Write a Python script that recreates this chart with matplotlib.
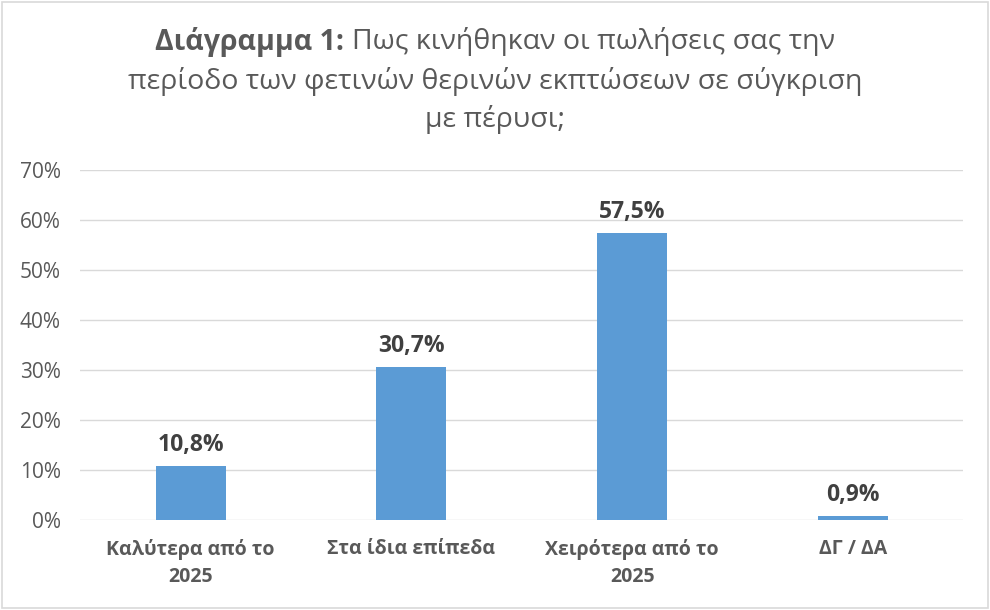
import matplotlib
matplotlib.use("Agg")
import matplotlib.pyplot as plt
from matplotlib.patches import Rectangle
import numpy as np

plt.rcParams['font.family'] = ['Open Sans', 'DejaVu Sans']

categories = ["Καλύτερα από το\n2025", "Στα ίδια επίπεδα", "Χειρότερα από το\n2025", "ΔΓ / ΔΑ"]
values = [10.8, 30.7, 57.5, 0.9]
yticks = [0, 10, 20, 30, 40, 50, 60, 70]

BAR_COLOR = "#5B9BD5"
TEXT_GRAY = "#595959"
LABEL_GRAY = "#404040"
GRID_GRAY = "#D9D9D9"

fig = plt.figure(figsize=(9.9, 6.1), dpi=100)
ax = fig.add_axes([0.081, 0.1475, 0.892, 0.5738])

x = np.arange(len(categories))
ax.bar(x, values, width=0.317, color=BAR_COLOR, zorder=3)

for xi, v in zip(x, values):
    ax.text(xi, v + 1.8, f"{v:.1f}%".replace(".", ","), ha="center", va="bottom",
            fontsize=16.5, fontweight="bold", color=LABEL_GRAY)

ax.set_xlim(-0.5, len(categories) - 0.5)
ax.set_ylim(0, 70)
ax.set_yticks(yticks)
ax.set_yticklabels([f"{t}%" for t in yticks], fontsize=15, color=TEXT_GRAY)
ax.set_xticks(x)
ax.set_xticklabels(categories, fontsize=14, fontweight="bold", color=TEXT_GRAY,
                   linespacing=1.45)
ax.tick_params(axis="both", length=0)
ax.tick_params(axis="x", pad=14)
ax.tick_params(axis="y", pad=14)
ax.grid(axis="y", color=GRID_GRAY, linewidth=1, zorder=0)
for s in ax.spines.values():
    s.set_visible(False)

# title: first line mixed bold / regular
fig.canvas.draw()
renderer = fig.canvas.get_renderer()
title_size = 20.5
bold_part = "Διάγραμμα 1: "
normal_part = "Πως κινήθηκαν οι πωλήσεις σας την"
tb = fig.text(0, 0, bold_part, fontsize=title_size, fontweight="bold", color=TEXT_GRAY)
tn = fig.text(0, 0, normal_part, fontsize=title_size, color=TEXT_GRAY)
wb = tb.get_window_extent(renderer).width / fig.bbox.width
wn = tn.get_window_extent(renderer).width / fig.bbox.width
x0 = 0.5 - (wb + wn) / 2
y1 = 1 - 42 / 610
tb.set_position((x0, y1))
tb.set_va("center")
tn.set_position((x0 + wb, y1))
tn.set_va("center")
fig.text(0.5, 1 - 81 / 610, "περίοδο των φετινών θερινών εκπτώσεων σε σύγκριση",
         ha="center", va="center", fontsize=title_size, color=TEXT_GRAY)
fig.text(0.5, 1 - 119 / 610, "με πέρυσι;", ha="center", va="center",
         fontsize=title_size, color=TEXT_GRAY)

fig.patches.append(Rectangle((0.002, 0.003), 0.996, 0.994, transform=fig.transFigure,
                             fill=False, edgecolor="#D9D9D9", linewidth=1.2))

fig.savefig("out.png", dpi=100)
